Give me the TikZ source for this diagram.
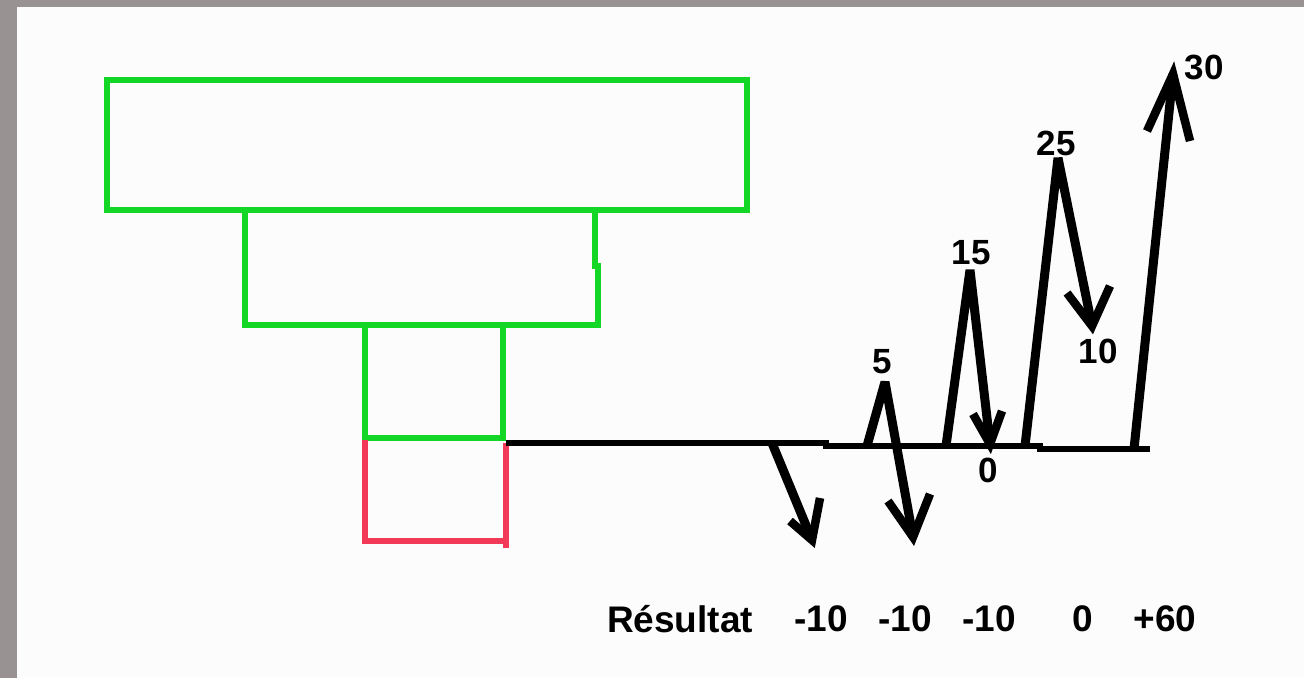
\documentclass[tikz,border=0pt]{standalone}
\usepackage{fontspec}
\setmainfont{Liberation Sans}
\definecolor{frame}{RGB}{152,146,146}
\definecolor{grn}{RGB}{20,214,36}
\definecolor{rd}{RGB}{242,58,88}
\begin{document}
\begin{tikzpicture}[x=1pt,y=-1pt,
  gbox/.style={draw=grn,line width=6pt,line join=miter},
  rbox/.style={draw=rd,line width=5.5pt},
  base/.style={draw=black,line width=6.5pt},
  arr/.style={draw=black,line width=9pt,line join=bevel,line cap=butt},
  head/.style={draw=black,line width=8.5pt,line join=miter},
  lab/.style={font=\bfseries\fontsize{35}{35}\selectfont,inner sep=0pt},
  res/.style={font=\bfseries\fontsize{37}{37}\selectfont,inner sep=0pt}]
\useasboundingbox (0,0) rectangle (1304,678);
\fill[frame] (0,0) rectangle (1304,678);
\fill[white!98!gray] (17,7) rectangle (1304,678);
% green boxes
\draw[gbox] (107,80) rectangle (747,210);
\draw[gbox] (245,210) -- (245,325) -- (598,325) -- (598,266) -- (595,266) -- (595,210);
\draw[gbox] (365,325) rectangle (503,438);
% red box
\draw[rbox] (365,440) -- (365,541) -- (506,541);
\draw[rbox] (506,443) -- (506,548);
% base line
\coordinate (b0) at (506,443);
\draw[base] (b0) -- (826,443) -- (826,446) -- (1040,446) -- (1040,449) -- (1150,449);
% arrow 1
\coordinate (a1s) at (772,443);
\coordinate (a1t) at (812,540);
\draw[arr] (a1s) -- (a1t);
\draw[head] (790,521) -- (a1t) -- (820,498);
% arrow 2
\coordinate (a2s) at (867,446);
\coordinate (a2p) at (885,382);
\coordinate (a2t) at (913,537);
\draw[arr] (a2s) -- (a2p) -- (a2t);
\draw[head] (888,501) -- (a2t) -- (930,494);
% arrow 3
\coordinate (a3s) at (946,446);
\coordinate (a3p) at (970,270);
\coordinate (a3t) at (990,444);
\draw[arr] (a3s) -- (a3p) -- (a3t);
\draw[head] (973,414) -- (a3t) -- (1002,411);
% arrow 4
\coordinate (a4s) at (1025,446);
\coordinate (a4p) at (1058,158);
\coordinate (a4t) at (1092,326);
\draw[arr] (a4s) -- (a4p) -- (a4t);
\draw[head] (1067,293) -- (a4t) -- (1110,286);
% arrow 5
\coordinate (a5s) at (1134,449);
\coordinate (a5t) at (1173,74);
\draw[arr] (a5s) -- (a5t);
\draw[head] (1147,131) -- (a5t) -- (1190,141);
% labels
\node[lab] (l5) at (882,362) {5};
\node[lab] (l15) at (971,253) {15};
\node[lab] (l0) at (988,470) {0};
\node[lab] (l25) at (1056,143) {25};
\node[lab] (l10) at (1098,351) {10};
\node[lab] (l30) at (1204,67) {30};
% result row
\node[res] (r) at (680,619) {Résultat};
\node[res] (r1) at (821,619) {-10};
\node[res] (r2) at (905,619) {-10};
\node[res] (r3) at (989,619) {-10};
\node[res] (r4) at (1083,619) {0};
\node[res] (r5) at (1165,619) {+60};
\end{tikzpicture}
\end{document}
